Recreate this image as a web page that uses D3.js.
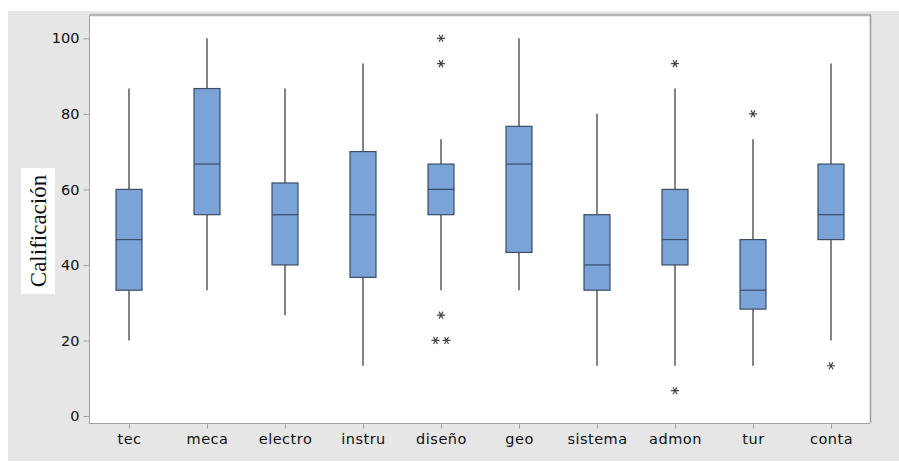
<!DOCTYPE html>
<html>
<head>
<meta charset="utf-8">
<script src="https://cdn.jsdelivr.net/npm/d3@7"></script>
<style>
  body { margin: 0; background: #fff; }
  svg { display: block; }
</style>
</head>
<body>
<div id="chart"></div>
<script>
/* global d3 */

const categories = ['tec', 'meca', 'electro', 'instru', 'diseño', 'geo', 'sistema', 'admon', 'tur', 'conta']
const whiskerLow = [20, 33.3, 26.7, 13.3, 33.3, 33.3, 13.3, 13.3, 13.3, 20]
const q1 = [33.3, 53.3, 40, 36.7, 53.3, 43.3, 33.3, 40, 28.3, 46.7]
const median = [46.7, 66.7, 53.3, 53.3, 60, 66.7, 40, 46.7, 33.3, 53.3]
const q3 = [60, 86.7, 61.7, 70, 66.7, 76.7, 53.3, 60, 46.7, 66.7]
const whiskerHigh = [86.7, 100, 86.7, 93.3, 73.3, 100, 80, 86.7, 73.3, 93.3]
// [category, value, offset index for repeated values]
const outliers = [
  ['diseño', 100, 0], ['diseño', 93.3, 0], ['diseño', 26.7, 0], ['diseño', 20, -1], ['diseño', 20, 1],
  ['admon', 93.3, 0], ['admon', 6.7, 0],
  ['tur', 80, 0],
  ['conta', 13.3, 0]
]
const yTicks = [0, 20, 40, 60, 80, 100]

const W = 899
const H = 462
const plot = { left: 90, right: 870, top: 16, bottom: 423 }

const svg = d3.select('#chart')
  .append('svg')
  .attr('width', W)
  .attr('height', H)

// outer gray panel
svg.append('rect')
  .attr('x', 8).attr('y', 11)
  .attr('width', W - 8).attr('height', H - 12)
  .attr('fill', '#e6e6e6')

// plot area
svg.append('rect')
  .attr('x', plot.left).attr('y', plot.top)
  .attr('width', plot.right - plot.left).attr('height', plot.bottom - plot.top)
  .attr('fill', '#fff')

const x = d3.scalePoint()
  .domain(categories)
  .range([plot.left, plot.right])
  .padding(0.5)

const y = d3.scaleLinear()
  .domain([0, 100])
  .range([416, 38.3])

const boxW = 26

// borders
svg.append('line')
  .attr('x1', plot.left).attr('x2', plot.right + 1)
  .attr('y1', plot.top - 1).attr('y2', plot.top - 1)
  .attr('stroke', '#b4b4b4').attr('stroke-width', 2.5)
svg.append('line')
  .attr('x1', plot.right + 0.5).attr('x2', plot.right + 0.5)
  .attr('y1', plot.top - 1).attr('y2', plot.bottom)
  .attr('stroke', '#9a9a9a').attr('stroke-width', 1.5)
svg.append('line')
  .attr('x1', plot.left).attr('x2', plot.right)
  .attr('y1', plot.bottom + 0.5).attr('y2', plot.bottom + 0.5)
  .attr('stroke', '#a0a0a0').attr('stroke-width', 1)
svg.append('line')
  .attr('x1', plot.left - 0.5).attr('x2', plot.left - 0.5)
  .attr('y1', plot.top - 1).attr('y2', plot.bottom + 1)
  .attr('stroke', '#a0a0a0').attr('stroke-width', 1)

// y axis
const yAxis = svg.append('g')
  .attr('transform', `translate(${plot.left - 0.5},0)`)
  .call(d3.axisLeft(y).tickValues(yTicks).tickSize(6).tickPadding(4))
yAxis.select('.domain').remove()
yAxis.selectAll('.tick line').attr('stroke', '#a0a0a0')
yAxis.selectAll('.tick text')
  .attr('fill', '#111')
  .style('font-family', 'DejaVu Sans, sans-serif')
  .style('font-size', '14.5px')

// x axis
const xAxis = svg.append('g')
  .attr('transform', `translate(0,${plot.bottom + 0.5})`)
  .call(d3.axisBottom(x).tickSize(5).tickPadding(5))
xAxis.select('.domain').remove()
xAxis.selectAll('.tick line').attr('stroke', '#a0a0a0')
xAxis.selectAll('.tick text')
  .attr('fill', '#111')
  .style('font-family', 'DejaVu Sans, sans-serif')
  .style('font-size', '14.5px')
  .style('letter-spacing', '0.5px')

// y label with white backing
const labelX = 38
const labelY = 231
svg.append('rect')
  .attr('x', 21).attr('y', 168)
  .attr('width', 34).attr('height', 126)
  .attr('fill', '#fff')
svg.append('text')
  .attr('transform', `translate(${labelX + 8},${labelY}) rotate(-90)`)
  .attr('text-anchor', 'middle')
  .style('font-family', 'Liberation Serif, Times New Roman, serif')
  .style('font-size', '23px')
  .attr('fill', '#111')
  .text('Calificación')

// boxes
const boxes = categories.map((c, i) => ({
  c, lo: whiskerLow[i], q1: q1[i], med: median[i], q3: q3[i], hi: whiskerHigh[i]
}))

const g = svg.append('g')

g.selectAll('line.whisker-hi')
  .data(boxes)
  .join('line')
  .attr('class', 'whisker-hi')
  .attr('x1', (d) => x(d.c)).attr('x2', (d) => x(d.c))
  .attr('y1', (d) => y(d.hi)).attr('y2', (d) => y(d.q3))
  .attr('stroke', '#5a5a5a').attr('stroke-width', 1.5)

g.selectAll('line.whisker-lo')
  .data(boxes)
  .join('line')
  .attr('class', 'whisker-lo')
  .attr('x1', (d) => x(d.c)).attr('x2', (d) => x(d.c))
  .attr('y1', (d) => y(d.q1)).attr('y2', (d) => y(d.lo))
  .attr('stroke', '#5a5a5a').attr('stroke-width', 1.5)

g.selectAll('rect.box')
  .data(boxes)
  .join('rect')
  .attr('class', 'box')
  .attr('x', (d) => x(d.c) - boxW / 2)
  .attr('width', boxW)
  .attr('y', (d) => y(d.q3))
  .attr('height', (d) => y(d.q1) - y(d.q3))
  .attr('fill', '#7aa3d8')
  .attr('stroke', '#3b4c63')
  .attr('stroke-width', 1.2)

g.selectAll('line.median')
  .data(boxes)
  .join('line')
  .attr('class', 'median')
  .attr('x1', (d) => x(d.c) - boxW / 2).attr('x2', (d) => x(d.c) + boxW / 2)
  .attr('y1', (d) => y(d.med)).attr('y2', (d) => y(d.med))
  .attr('stroke', '#3b4c63').attr('stroke-width', 1.2)

// outliers
const star = d3.symbol().type(d3.symbolAsterisk).size(45)
g.selectAll('path.outlier')
  .data(outliers)
  .join('path')
  .attr('class', 'outlier')
  .attr('d', star)
  .attr('transform', (d) => `translate(${x(d[0]) + d[2] * 5.5},${y(d[1])}) rotate(90)`)
  .attr('fill', 'none')
  .attr('stroke', '#444')
  .attr('stroke-width', 1.2)
</script>
</body>
</html>
